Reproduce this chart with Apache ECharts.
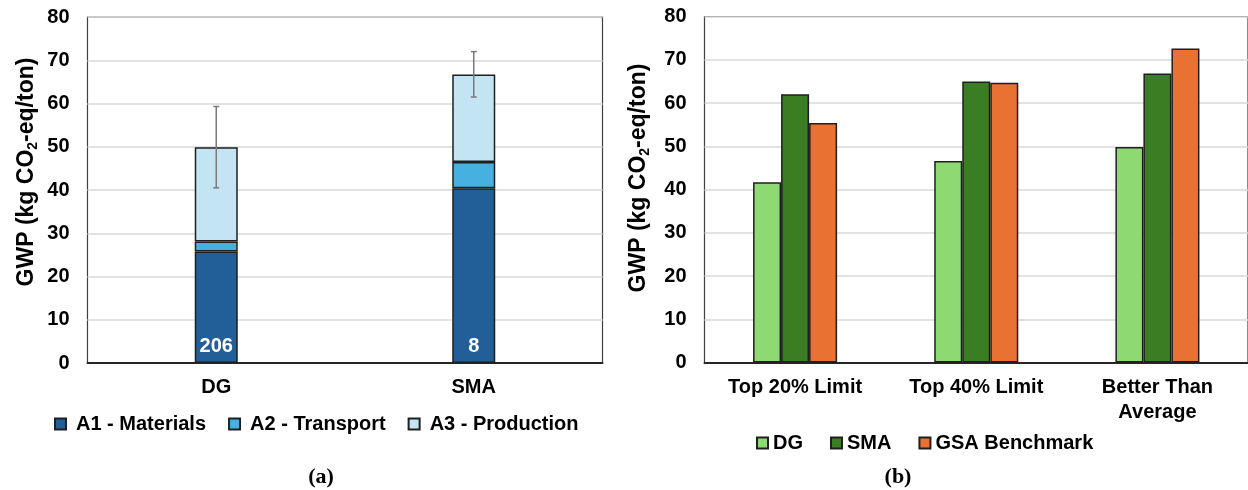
<!DOCTYPE html>
<html>
<head>
<meta charset="utf-8">
<script src="https://cdn.jsdelivr.net/npm/echarts@6/dist/echarts.min.js"></script>
<style>
html,body{margin:0;padding:0;background:#fff;}
#chart{width:1248px;height:490px;}
</style>
</head>
<body>
<div id="chart"></div>
<script>
// ---- Panel (a) data ----
const mixCategories = ['DG', 'SMA'];
const stageNames = ['A1 - Materials', 'A2 - Transport', 'A3 - Production'];
const a1Materials = [25.8, 40.4];
const a2Transport = [2.3, 6.1];
const a3Production = [21.8, 20.2];
const errPlus = [9.4, 5.3];
const errMinus = [9.4, 5.2];
const sampleCounts = [206, 8];

// ---- Panel (b) data ----
const benchCategories = ['Top 20% Limit', 'Top 40% Limit', 'Better Than\nAverage'];
const benchSeriesNames = ['DG', 'SMA', 'GSA Benchmark'];
const dgValues = [41.7, 46.6, 49.8];
const smaValues = [62.0, 65.0, 66.8];
const gsaValues = [55.4, 64.7, 72.6];

const yTicks = { min: 0, max: 80, interval: 10 };

const FONT = "'Liberation Sans', Arial, sans-serif";
const BORDER = '#1f1f1f';
const stageColors = ['#225f99', '#46b1e1', '#c3e4f3'];
const benchColors = ['#8fd973', '#3b7d23', '#e97132'];

const totals = a1Materials.map((v, i) => v + a2Transport[i] + a3Production[i]);
const errData = totals.map((t, i) => [i, t - errMinus[i], t + errPlus[i]]);

const chart = echarts.init(document.getElementById('chart'), null, { renderer: 'canvas' });

function yAxisCfg(gridIndex) {
  return {
    type: 'value', gridIndex: gridIndex,
    min: yTicks.min, max: yTicks.max, interval: yTicks.interval,
    axisLine: { show: false }, axisTick: { show: false },
    axisLabel: { margin: 18, color: '#000', fontFamily: FONT, fontSize: 20, fontWeight: 'bold' },
    splitLine: { lineStyle: { color: '#d9d9d9', width: 1.5 } }
  };
}
function xAxisCfg(gridIndex, data) {
  return {
    type: 'category', gridIndex: gridIndex, data: data,
    axisLine: { lineStyle: { color: '#262626', width: 2 } },
    axisTick: { show: false },
    axisLabel: { margin: 12, color: '#000', fontFamily: FONT, fontSize: 20, fontWeight: 'bold', lineHeight: 25, interval: 0 }
  };
}

const titleRich = {
  a: { fontFamily: FONT, fontSize: 23, fontWeight: 'bold', fill: '#000', color: '#000' },
  s: { fontFamily: FONT, fontSize: 14, fontWeight: 'bold', fill: '#000', color: '#000', padding: [12, 0, 0, 0] }
};

const option = {
  backgroundColor: '#fff',
  animation: false,
  grid: [
    { left: 87.5, top: 17, width: 515, height: 346, show: true, borderColor: '#404040', borderWidth: 1.2, backgroundColor: 'transparent' },
    { left: 704.5, top: 16.5, width: 545, height: 346, show: true, borderColor: '#404040', borderWidth: 1.2, backgroundColor: 'transparent' }
  ],
  xAxis: [xAxisCfg(0, mixCategories), xAxisCfg(1, benchCategories)],
  yAxis: [yAxisCfg(0), yAxisCfg(1)],
  legend: [
    {
      data: stageNames, left: 54, top: 412, padding: 0, icon: 'rect',
      itemWidth: 11, itemHeight: 11, itemGap: 22,
      textStyle: { fontFamily: FONT, fontSize: 20, fontWeight: 'bold', color: '#000', lineHeight: 24, padding: [0, 0, 0, 5] }
    },
    {
      data: benchSeriesNames, left: 756, top: 431, padding: 0, icon: 'rect',
      itemWidth: 11, itemHeight: 11, itemGap: 27,
      textStyle: { fontFamily: FONT, fontSize: 20, fontWeight: 'bold', color: '#000', lineHeight: 24 }
    }
  ],
  graphic: [
    {
      type: 'text', x: 27, y: 172, rotation: Math.PI / 2,
      style: { text: '{a|GWP (kg CO}{s|2}{a|-eq/ton)}', rich: titleRich, align: 'center', verticalAlign: 'middle' }
    },
    {
      type: 'text', x: 639, y: 178, rotation: Math.PI / 2,
      style: { text: '{a|GWP (kg CO}{s|2}{a|-eq/ton)}', rich: titleRich, align: 'center', verticalAlign: 'middle' }
    },
    {
      type: 'text', x: 321, y: 477,
      style: { text: '(a)', fontFamily: "'Liberation Serif', 'Times New Roman', serif", fontSize: 22, fontWeight: 'bold', fill: '#000', align: 'center', verticalAlign: 'middle' }
    },
    {
      type: 'text', x: 898, y: 477,
      style: { text: '(b)', fontFamily: "'Liberation Serif', 'Times New Roman', serif", fontSize: 22, fontWeight: 'bold', fill: '#000', align: 'center', verticalAlign: 'middle' }
    }
  ],
  series: [
    {
      name: stageNames[0], type: 'bar', stack: 'gwp', xAxisIndex: 0, yAxisIndex: 0,
      data: a1Materials, barWidth: '16.7%',
      itemStyle: { color: stageColors[0], borderColor: BORDER, borderWidth: 1.5 },
      label: {
        show: true, position: 'insideBottom', distance: 7,
        formatter: p => String(sampleCounts[p.dataIndex]),
        color: '#fff', fontFamily: FONT, fontSize: 20, fontWeight: 'bold'
      }
    },
    {
      name: stageNames[1], type: 'bar', stack: 'gwp', xAxisIndex: 0, yAxisIndex: 0,
      data: a2Transport, barWidth: '16.7%',
      itemStyle: { color: stageColors[1], borderColor: BORDER, borderWidth: 1.5 }
    },
    {
      name: stageNames[2], type: 'bar', stack: 'gwp', xAxisIndex: 0, yAxisIndex: 0,
      data: a3Production, barWidth: '16.7%',
      itemStyle: { color: stageColors[2], borderColor: BORDER, borderWidth: 1.5 }
    },
    {
      name: 'error', type: 'custom', xAxisIndex: 0, yAxisIndex: 0, z: 10,
      data: errData,
      renderItem: function (params, api) {
        const x = api.value(0);
        const lo = api.coord([x, api.value(1)]);
        const hi = api.coord([x, api.value(2)]);
        const cap = 3;
        const style = { stroke: '#7a7a7a', lineWidth: 1.5 };
        return {
          type: 'group',
          children: [
            { type: 'line', shape: { x1: hi[0], y1: hi[1], x2: lo[0], y2: lo[1] }, style: style },
            { type: 'line', shape: { x1: hi[0] - cap, y1: hi[1], x2: hi[0] + cap, y2: hi[1] }, style: style },
            { type: 'line', shape: { x1: lo[0] - cap, y1: lo[1], x2: lo[0] + cap, y2: lo[1] }, style: style }
          ]
        };
      }
    },
    {
      name: benchSeriesNames[0], type: 'bar', xAxisIndex: 1, yAxisIndex: 1,
      data: dgValues, barGap: '0%', barCategoryGap: '53.6%',
      itemStyle: { color: benchColors[0], borderColor: BORDER, borderWidth: 1.5 }
    },
    {
      name: benchSeriesNames[1], type: 'bar', xAxisIndex: 1, yAxisIndex: 1,
      data: smaValues, barGap: '0%', barCategoryGap: '53.6%',
      itemStyle: { color: benchColors[1], borderColor: BORDER, borderWidth: 1.5 }
    },
    {
      name: benchSeriesNames[2], type: 'bar', xAxisIndex: 1, yAxisIndex: 1,
      data: gsaValues, barGap: '0%', barCategoryGap: '53.6%',
      itemStyle: { color: benchColors[2], borderColor: BORDER, borderWidth: 1.5 }
    }
  ]
};

chart.setOption(option);
</script>
</body>
</html>
